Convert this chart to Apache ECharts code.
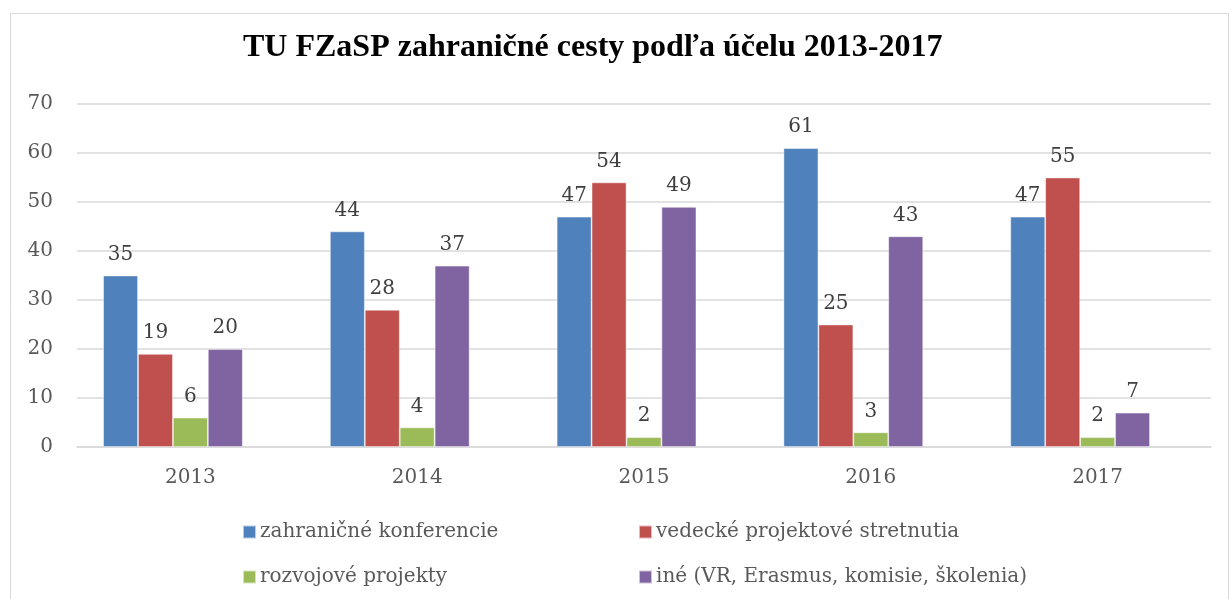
<!DOCTYPE html>
<html>
<head>
<meta charset="utf-8">
<script src="https://cdn.jsdelivr.net/npm/echarts@6/dist/echarts.min.js"></script>
<style>
  html, body { margin: 0; padding: 0; background: #fff; }
  #chart { width: 1231px; height: 599px; }
</style>
</head>
<body>
<div id="chart"></div>
<script>
var years = ['2013', '2014', '2015', '2016', '2017'];
var seriesNames = [
  'zahraničné konferencie',
  'vedecké projektové stretnutia',
  'rozvojové projekty',
  'iné (VR, Erasmus, komisie, školenia)'
];
var konferencie = [35, 44, 47, 61, 47];
var stretnutia = [19, 28, 54, 25, 55];
var rozvojove = [6, 4, 2, 3, 2];
var ine = [20, 37, 49, 43, 7];
// the source sheet has an empty fifth column, it still takes a bar slot
var prazdne = [null, null, null, null, null];
var yTicks = { min: 0, max: 70, interval: 10 };

var colors = ['#4F81BD', '#C0504D', '#9BBB59', '#8064A2', '#F79646'];
var serifFont = 'DejaVu Serif';
var textColor = '#595959';

var myChart = echarts.init(document.getElementById('chart'));

function makeSeries(name, values) {
  return {
    name: name,
    type: 'bar',
    data: values,
    barGap: '0%',
    barCategoryGap: '23%',
    itemStyle: { borderColor: 'rgba(255,255,255,0.6)', borderWidth: 0.8 },
    label: {
      show: true,
      position: 'top',
      distance: 11,
      color: '#404040',
      fontFamily: serifFont,
      fontSize: 20
    }
  };
}

// each legend item placed on its own, two columns x two rows
function makeLegend(name, left, top) {
  return {
    data: [name],
    left: left,
    top: top,
    itemWidth: 13,
    itemHeight: 13,
    itemGap: 0,
    icon: 'rect',
    textStyle: { fontFamily: serifFont, fontSize: 20, color: textColor, padding: [0, 0, 0, -1] }
  };
}

var option = {
  color: colors,
  animation: false,
  graphic: [{
    type: 'rect',
    shape: { x: 10.5, y: 13.5, width: 1218, height: 600 },
    style: { fill: 'none', stroke: '#d9d9d9', lineWidth: 1 },
    silent: true
  }],
  title: {
    text: 'TU FZaSP zahraničné cesty podľa účelu 2013-2017',
    left: 238,
    top: 27,
    textStyle: {
      fontFamily: 'Liberation Serif',
      fontWeight: 'bold',
      fontSize: 32,
      color: '#000'
    }
  },
  legend: [
    makeLegend(seriesNames[0], 237, 517),
    makeLegend(seriesNames[1], 633, 517),
    makeLegend(seriesNames[2], 237, 562),
    makeLegend(seriesNames[3], 633, 562)
  ],
  grid: {
    left: 77,
    right: 20,
    top: 104,
    bottom: 152,
    containLabel: false
  },
  xAxis: {
    type: 'category',
    data: years,
    axisTick: { show: false },
    axisLine: { lineStyle: { color: '#d9d9d9', width: 1.5 } },
    axisLabel: {
      margin: 21,
      color: textColor,
      fontFamily: serifFont,
      fontSize: 20
    }
  },
  yAxis: {
    type: 'value',
    min: yTicks.min,
    max: yTicks.max,
    interval: yTicks.interval,
    axisLine: { show: false },
    axisTick: { show: false },
    splitLine: { lineStyle: { color: '#d9d9d9', width: 1.5 } },
    axisLabel: {
      margin: 24,
      color: textColor,
      fontFamily: serifFont,
      fontSize: 20
    }
  },
  series: [
    makeSeries(seriesNames[0], konferencie),
    makeSeries(seriesNames[1], stretnutia),
    makeSeries(seriesNames[2], rozvojove),
    makeSeries(seriesNames[3], ine),
    makeSeries('prázdne', prazdne)
  ]
};

myChart.setOption(option);
</script>
</body>
</html>
